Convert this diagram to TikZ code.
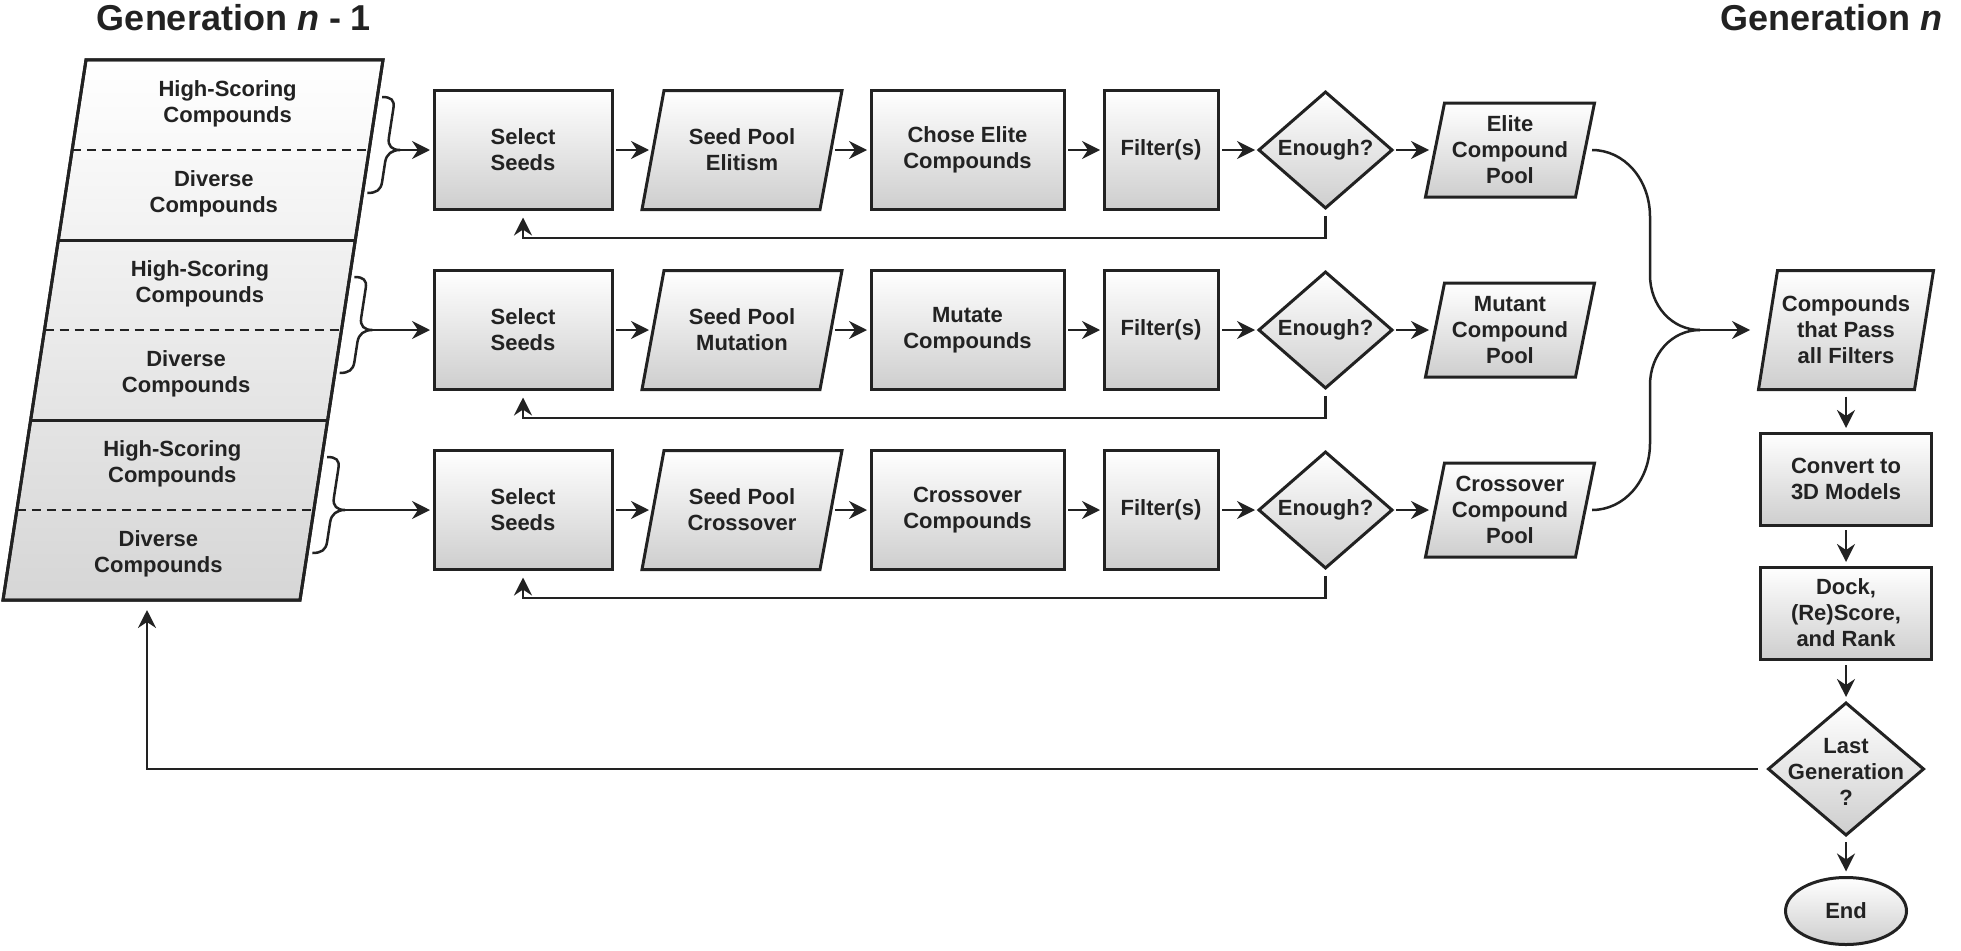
\documentclass[tikz,border=0pt]{standalone}
\usepackage{fontspec}
\setmainfont{Liberation Sans}
\usetikzlibrary{shapes.geometric, arrows.meta, calc, backgrounds}
\definecolor{ink}{RGB}{34,34,34}
\definecolor{shbot}{RGB}{206,206,206}
\definecolor{genbot}{RGB}{214,214,214}

\tikzset{
  lbl/.style={font=\fontsize{22}{26}\selectfont\bfseries, text=ink, align=center},
  boxbase/.style={lbl, draw=ink, line width=3pt, top color=white, bottom color=shbot, inner sep=0pt, outer sep=0pt},
  procbox/.style={boxbase, rectangle},
  decbox/.style={boxbase, diamond},
  termbox/.style={boxbase, ellipse},
  ptext/.style={lbl, rectangle, inner sep=0pt, outer sep=0pt},
  conn/.style={draw=ink, line width=2.5pt},
  arr/.style={conn, -{Stealth[length=18pt, width=18pt, inset=6pt]}, shorten <=4pt, shorten >=4pt},
  gentitle/.style={font=\fontsize{36}{40}\selectfont\bfseries, text=ink},
}

% parallelogram node: name, x, y, width, height, slant, text
\newcommand{\mypara}[7]{%
  \node[ptext, minimum width=#4, minimum height=#5] (#1) at (#2,#3) {#7};
  \begin{scope}[on background layer]
    \path[draw=ink, line width=3pt, top color=white, bottom color=shbot]
      ($(#1.north west)+(#6/2,0)$) -- ($(#1.north east)+(#6/2,0)$) --
      ($(#1.south east)-(#6/2,0)$) -- ($(#1.south west)-(#6/2,0)$) -- cycle;
  \end{scope}}

% brace with tip coordinate: name, x, y
\newcommand{\mybrace}[3]{%
  \begin{scope}[shift={(#2,#3)}, xslant=0.1537]
    \draw[conn] (-26,-53) .. controls (-17,-53) and (-13,-50) .. (-13,-42)
      -- (-13,-12) .. controls (-13,-4) and (-8,0) .. (0,0)
      .. controls (-8,0) and (-13,4) .. (-13,12)
      -- (-13,32) .. controls (-13,40) and (-17,43) .. (-26,43);
    \coordinate (#1) at (0,0);
  \end{scope}}

% one processing row: id, y, seed pool text, operation text, pool text
\newcommand{\prow}[5]{%
  \node[procbox, minimum width=178pt, minimum height=119pt] (s#1) at (523,#2) {Select\\Seeds};
  \mypara{sp#1}{742}{#2}{178pt}{119pt}{22}{#3}
  \node[procbox, minimum width=193pt, minimum height=119pt] (op#1) at (967.5,#2) {#4};
  \node[procbox, minimum width=114pt, minimum height=119pt] (f#1) at (1161,#2) {Filter(s)};
  \node[decbox, minimum width=133pt, minimum height=115pt] (e#1) at (1325.5,#2) {Enough?};
  \mypara{p#1}{1510}{#2}{150pt}{94pt}{19}{#5}
  \draw[arr] (s#1) -- (sp#1);
  \draw[arr] (sp#1) -- (op#1);
  \draw[arr] (op#1) -- (f#1);
  \draw[arr] (f#1) -- (e#1);
  \draw[arr, shorten >=6pt] (e#1) -- (p#1);
  \coordinate (fb#1) at (0,#2+88);
  \draw[arr, shorten <=8pt, shorten >=8pt] (e#1.south) -- (e#1.south |- fb#1) -| (s#1.south);
}

\begin{document}
\begin{tikzpicture}[x=1pt, y=-1pt]
\useasboundingbox (0,0) rectangle (1961,950);

% titles
\node[gentitle, anchor=base] (t1) at (234,31) {Generation \textit{n} - 1};
\node[gentitle, anchor=base east] (t2) at (1946,31) {Generation \textit{n}};

% previous generation parallelogram
\path[draw=ink, line width=3pt, top color=white, bottom color=genbot]
  (86,60) -- (383,60) -- (300,600) -- (3,600) -- cycle;
\draw[ink, line width=3pt] (58.3,240) -- (355.3,240);
\draw[ink, line width=3pt] (30.7,420) -- (327.7,420);
\draw[ink, line width=2.2pt, dash pattern=on 9pt off 6pt] (72.2,150) -- (369.2,150);
\draw[ink, line width=2.2pt, dash pattern=on 9pt off 6pt] (44.5,330) -- (341.5,330);
\draw[ink, line width=2.2pt, dash pattern=on 9pt off 6pt] (16.8,510) -- (313.8,510);
\draw[ink, line width=3pt] (86,60) -- (383,60) -- (300,600) -- (3,600) -- cycle;

\node[lbl] (ha) at (227.6,104) {High-Scoring\\Compounds};
\node[lbl] (da) at (213.8,194) {Diverse\\Compounds};
\node[lbl] (hb) at (199.9,284) {High-Scoring\\Compounds};
\node[lbl] (db) at (186.1,374) {Diverse\\Compounds};
\node[lbl] (hc) at (172.3,464) {High-Scoring\\Compounds};
\node[lbl] (dc) at (158.4,554) {Diverse\\Compounds};
\coordinate (gin) at (147,600);

% braces
\mybrace{b1}{400}{150}
\mybrace{b2}{372.3}{330}
\mybrace{b3}{345}{510}

% rows
\prow{1}{150}{Seed Pool\\Elitism}{Chose Elite\\Compounds}{Elite\\Compound\\Pool}
\prow{2}{330}{Seed Pool\\Mutation}{Mutate\\Compounds}{Mutant\\Compound\\Pool}
\prow{3}{510}{Seed Pool\\Crossover}{Crossover\\Compounds}{Crossover\\Compound\\Pool}

\draw[arr, shorten <=0pt] (b1) -- (s1);
\draw[arr, shorten <=0pt] (b2) -- (s2);
\draw[arr, shorten <=0pt] (b3) -- (s3);

% right column
\mypara{cmp}{1846}{330}{156pt}{119pt}{19}{Compounds\\that Pass\\all Filters}
\node[procbox, minimum width=171pt, minimum height=92pt] (conv) at (1846,479) {Convert to\\3D Models};
\node[procbox, minimum width=171pt, minimum height=92pt] (dock) at (1846,613) {Dock,\\(Re)Score,\\and Rank};
\node[decbox, minimum width=155pt, minimum height=132pt] (last) at (1846,769) {};
\node[lbl] (lastt) at (1846,772) {Last\\Generation\\?};
\node[termbox, minimum width=121pt, minimum height=67pt] (end) at (1846,911) {End};

% merging curves
\coordinate (M) at (1700,330);
\draw[conn, shorten <=7pt] (p1.east) .. controls (1624,150) and (1650,179) .. (1650,217)
  -- (1650,275) .. controls (1650,306) and (1672,330) .. (M);
\draw[conn, shorten <=7pt] (p3.east) .. controls (1624,510) and (1650,481) .. (1650,443)
  -- (1650,385) .. controls (1650,354) and (1672,330) .. (M);
\draw[arr, shorten <=0pt, shorten >=18pt] (M) -- (cmp);

\draw[arr, shorten <=7pt, shorten >=5pt] (cmp) -- (conv);
\draw[arr, shorten <=5pt, shorten >=5pt] (conv) -- (dock);
\draw[arr, shorten <=6pt, shorten >=6pt] (dock) -- (last);
\draw[arr, shorten <=7pt, shorten >=6pt] (last) -- (end);

% return to previous generation
\draw[arr, shorten <=11pt, shorten >=10pt] (last.west) -| (gin);
\end{tikzpicture}
\end{document}
